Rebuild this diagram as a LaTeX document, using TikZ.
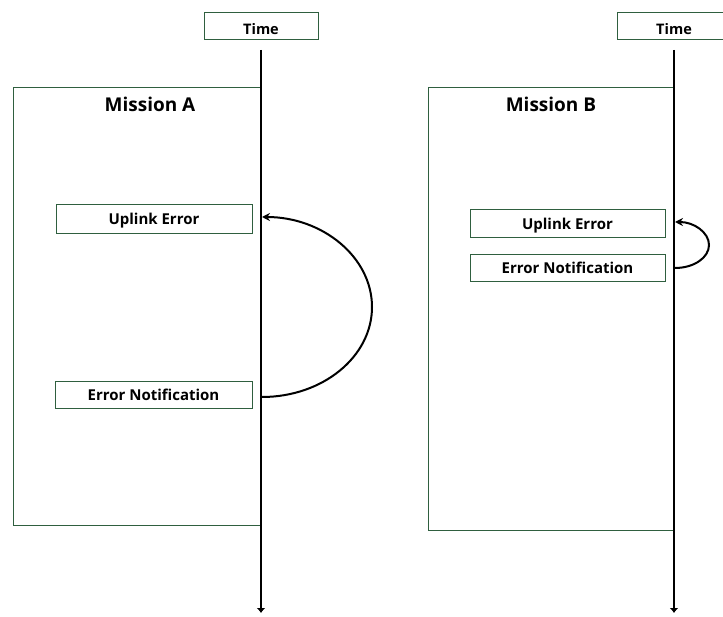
\documentclass[tikz,border=0pt]{standalone}
\usepackage{fontspec}
\setmainfont{Open Sans}
\usetikzlibrary{arrows.meta}
\definecolor{boxgreen}{HTML}{2F5F3F}
\begin{document}
\begin{tikzpicture}[x=1pt, y=-1pt,
  evbox/.style={draw=boxgreen, line width=0.8pt, inner sep=0pt, text height=12.6pt, text depth=0pt, font=\bfseries\fontsize{15}{17}\selectfont},
  timebox/.style={evbox, minimum width=114pt, minimum height=27pt, text height=19pt, font=\bfseries\fontsize{14.5}{16}\selectfont},
  mission/.style={draw=boxgreen, line width=0.8pt, inner sep=0pt},
  title/.style={font=\bfseries\fontsize{19}{21}\selectfont},
  timeline/.style={line width=2pt, -{Latex[length=5pt,width=9pt]}},
  loop/.style={line width=2pt, -{Stealth[length=8pt,width=8pt]}}]
\useasboundingbox (0,0) rectangle (723,617);
% mission A
\node[mission, minimum width=248pt, minimum height=438pt] (missA) at (137,306){};
\node[title] (titA) at (150,104){Mission A};
\node[evbox, minimum width=196pt, minimum height=29pt] (upA) at (154,218.5){Uplink Error};
\node[evbox, minimum width=197pt, minimum height=27pt] (notA) at (153.5,394.5){Error Notification};
\node[timebox] (timeA) at (261,25.5){Time};
\coordinate (topA) at (261,50);
\coordinate (botA) at (261,613);
\draw[timeline](topA) -- (botA);
\coordinate (fromA) at (262,397);
\draw[loop](fromA) arc[start angle=90, end angle=-90, x radius=110, y radius=90];
% mission B
\node[mission, minimum width=246pt, minimum height=443pt] (missB) at (551,308.5){};
\node[title] (titB) at (551,104){Mission B};
\node[evbox, minimum width=195pt, minimum height=28pt] (upB) at (567.5,223){Uplink Error};
\node[evbox, minimum width=195pt, minimum height=27pt] (notB) at (567.5,267.5){Error Notification};
\node[timebox] (timeB) at (674,25.5){Time};
\coordinate (topB) at (674,50);
\coordinate (botB) at (674,613);
\draw[timeline](topB) -- (botB);
\coordinate (fromB) at (675,268);
\draw[loop](fromB) arc[start angle=90, end angle=-90, x radius=34, y radius=23];
\end{tikzpicture}
\end{document}
